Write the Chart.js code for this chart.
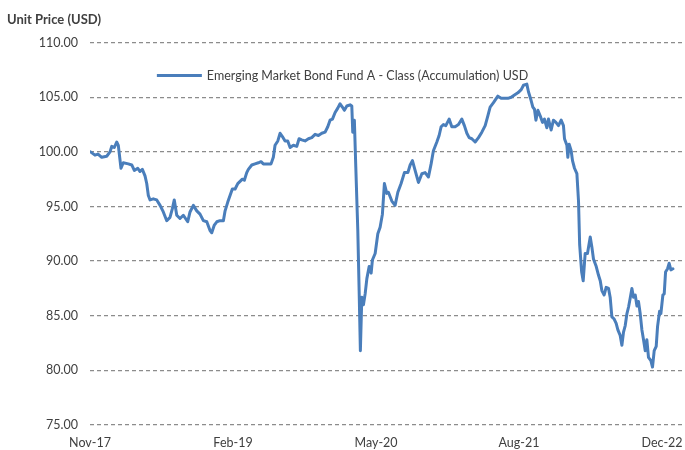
<!DOCTYPE html>
<html>
<head>
<meta charset="utf-8">
<script src="https://cdn.jsdelivr.net/npm/chart.js@4"></script>
<style>
  body { margin: 0; background: #fff; }
  #wrap { width: 685px; height: 450px; }
</style>
</head>
<body>
<div id="wrap"><canvas id="priceChart" width="685" height="450"></canvas></div>
<script>
// months elapsed since Nov-17
const months = [
  0.05, 0.52, 0.84, 1.23, 1.75, 2.10, 2.28, 2.55, 2.80, 2.97, 3.25, 3.49, 4.02, 4.38, 4.65, 5.01,
  5.25, 5.49, 5.77, 5.95, 6.12, 6.30, 6.64, 7.00, 7.35, 7.69, 8.05, 8.39, 8.64, 8.84, 9.10, 9.44,
  9.79, 10.25, 10.49, 10.84, 11.20, 11.54, 11.89, 12.25, 12.59, 12.77, 13.04, 13.30, 13.64, 13.99,
  14.17, 14.45, 14.69, 14.93, 15.22, 15.50, 15.74, 15.98, 16.19, 16.44, 16.61, 16.97, 17.31, 17.66,
  17.94, 18.18, 18.54, 18.99, 19.23, 19.41, 19.70, 19.94, 20.18, 20.46, 20.74, 20.99, 21.33, 21.69,
  21.93, 22.21, 22.56, 22.91, 23.26, 23.61, 23.96, 24.31, 24.66, 24.94, 25.18, 25.43, 25.71, 25.99,
  26.23, 26.47, 26.68, 26.94, 27.28, 27.46, 27.56, 27.73, 27.88, 28.09, 28.23, 28.36, 28.51, 28.68,
  28.86, 29.04, 29.28, 29.49, 29.62, 29.91, 30.19, 30.43, 30.67, 30.88, 31.13, 31.30, 31.66, 32.00,
  32.29, 32.63, 32.98, 33.34, 33.58, 33.82, 34.10, 34.45, 34.81, 35.15, 35.50, 35.78, 36.02, 36.38,
  36.62, 36.83, 37.07, 37.32, 37.67, 37.95, 38.30, 38.65, 39.00, 39.27, 39.53, 39.77, 40.05, 40.40,
  40.75, 41.10, 41.45, 41.73, 41.97, 42.32, 42.78, 43.13, 43.47, 43.83, 44.18, 44.52, 44.88, 45.23,
  45.47, 45.82, 45.99, 46.27, 46.45, 46.62, 46.77, 46.98, 47.22, 47.46, 47.67, 47.92, 48.09, 48.37,
  48.61, 48.87, 49.14, 49.42, 49.66, 49.77, 50.02, 50.12, 50.26, 50.47, 50.61, 50.82, 51.07, 51.24,
  51.36, 51.57, 51.73, 51.94, 52.18, 52.47, 52.64, 52.81, 53.10, 53.34, 53.52, 53.69, 53.93, 54.14,
  54.39, 54.56, 54.74, 54.98, 55.19, 55.37, 55.61, 55.79, 55.96, 56.14, 56.32, 56.49, 56.66, 56.84,
  57.01, 57.19, 57.37, 57.53, 57.71, 57.89, 58.06, 58.24, 58.41, 58.58, 58.83, 59.00, 59.18, 59.39,
  59.53, 59.74, 59.88, 60.09, 60.23, 60.37, 60.58, 60.75, 60.93, 61.14
];

const unitPrice = [
  100.0, 99.7, 99.8, 99.5, 99.6, 100.0, 100.5, 100.4, 100.9, 100.6, 98.5, 99.0, 98.9, 98.8, 98.3, 98.5,
  98.2, 98.4, 97.8, 97.1, 96.0, 95.6, 95.7, 95.6, 95.1, 94.5, 93.7, 94.0, 94.8, 95.6, 94.2, 93.9,
  94.2, 93.6, 94.5, 95.1, 94.6, 94.3, 93.7, 93.6, 92.8, 92.6, 93.3, 93.6, 93.7, 93.7,
  94.6, 95.4, 96.0, 96.6, 96.6, 97.1, 97.3, 97.5, 97.4, 98.1, 98.4, 98.8, 98.9, 99.0,
  99.1, 98.9, 98.9, 98.9, 99.5, 100.6, 101.0, 101.7, 101.4, 101.0, 101.0, 100.4, 100.6, 100.5,
  101.2, 101.1, 101.0, 101.2, 101.3, 101.6, 101.5, 101.7, 101.8, 102.3, 102.9, 103.0, 103.6, 104.0,
  104.4, 104.1, 103.8, 104.2, 104.3, 104.2, 101.8, 102.9, 98.6, 92.8, 87.3, 81.8, 86.7, 86.0,
  87.0, 88.4, 89.5, 88.9, 90.1, 90.7, 92.5, 93.1, 94.3, 97.1, 96.2, 96.3, 95.5, 95.1,
  96.3, 97.1, 98.1, 98.1, 98.8, 99.2, 98.3, 97.2, 98.0, 98.1, 97.7, 98.9, 100.1, 100.9,
  101.5, 102.3, 102.5, 102.4, 103.0, 102.3, 102.3, 102.5, 103.0, 102.4, 101.7, 101.3, 101.2, 100.9,
  101.3, 101.8, 102.4, 103.3, 104.1, 104.5, 105.1, 104.9, 104.9, 104.9, 105.0, 105.2, 105.4, 105.7,
  106.1, 106.2, 105.5, 104.7, 104.1, 103.9, 102.9, 103.8, 103.3, 102.7, 103.0, 102.2, 103.0, 102.0,
  102.9, 102.7, 102.4, 102.9, 102.4, 101.2, 100.6, 99.5, 100.7, 100.1, 99.2, 98.5, 98.0, 95.5,
  91.5, 89.0, 88.2, 90.7, 90.7, 92.2, 91.3, 90.2, 89.5, 88.7, 88.2, 87.3, 86.9, 87.6,
  87.5, 86.7, 84.9, 84.7, 84.3, 83.7, 83.2, 82.3, 83.5, 84.1, 85.2, 85.8, 86.6, 87.5,
  86.7, 86.9, 85.9, 86.3, 85.2, 83.7, 82.8, 81.8, 82.8, 81.2, 80.9, 80.3, 81.8, 82.2,
  84.0, 85.4, 85.2, 86.9, 87.0, 89.0, 89.3, 89.8, 89.2, 89.3
];

const tickMonths = [0, 15, 30, 45, 60];
const tickLabels = ['Nov-17', 'Feb-19', 'May-20', 'Aug-21', 'Dec-22'];
const seriesName = 'Emerging Market Bond Fund A - Class (Accumulation) USD';

const textColor = '#404040';
const lineColor = '#4a7ebb';
const fontFamily = 'Lato, "Open Sans", sans-serif';

// legend sits inside the plot, centred on the canvas
const innerLegend = {
  id: 'innerLegend',
  afterDraw(chart) {
    const ctx = chart.ctx;
    const ds = chart.data.datasets[0];
    const y = chart.chartArea.top + 33;
    ctx.save();
    ctx.font = '12.5px ' + fontFamily;
    const textW = ctx.measureText(ds.label).width;
    const lineW = 45, gap = 5;
    const x0 = (chart.width - (lineW + gap + textW)) / 2;
    ctx.strokeStyle = ds.borderColor;
    ctx.lineWidth = 3;
    ctx.beginPath();
    ctx.moveTo(x0, y);
    ctx.lineTo(x0 + lineW, y);
    ctx.stroke();
    ctx.fillStyle = textColor;
    ctx.textBaseline = 'middle';
    ctx.fillText(ds.label, x0 + lineW + gap, y);
    ctx.restore();
  }
};

const ctx = document.getElementById('priceChart').getContext('2d');
const priceChart = new Chart(ctx, {
  type: 'line',
  data: {
    datasets: [{
      label: seriesName,
      data: months.map((m, i) => ({ x: m, y: unitPrice[i] })),
      borderColor: lineColor,
      borderWidth: 3,
      borderJoinStyle: 'round',
      borderCapStyle: 'round',
      pointRadius: 0,
      tension: 0,
      fill: false
    }]
  },
  options: {
    responsive: false,
    animation: false,
    layout: { padding: { left: 7, right: 2, top: 4, bottom: 0 } },
    plugins: {
      legend: { display: false },
      tooltip: { enabled: false },
      title: {
        display: true,
        text: 'Unit Price (USD)',
        align: 'start',
        color: textColor,
        font: { family: fontFamily, size: 13, weight: 'bold' },
        padding: { top: 8, bottom: 15 }
      }
    },
    scales: {
      x: {
        type: 'linear',
        min: 0,
        max: 62.2,
        grid: { display: false },
        border: { display: false },
        afterBuildTicks: (scale) => {
          scale.ticks = tickMonths.map(v => ({ value: v }));
        },
        afterFit: (scale) => { scale.height = 25; },
        ticks: {
          autoSkip: false,
          maxRotation: 0,
          padding: 2,
          color: textColor,
          font: { family: fontFamily, size: 12.5 },
          callback: (v) => tickLabels[tickMonths.indexOf(v)]
        }
      },
      y: {
        min: 75,
        max: 110,
        afterFit: (scale) => { scale.width = 83; },
        grid: { color: '#8c8c8c', lineWidth: 1.3, drawTicks: false },
        border: { display: false, dash: [4, 3] },
        ticks: {
          stepSize: 5,
          padding: 12,
          color: textColor,
          font: { family: fontFamily, size: 12.5 },
          callback: (v) => v.toFixed(2)
        }
      }
    }
  },
  plugins: [innerLegend]
});
</script>
</body>
</html>
